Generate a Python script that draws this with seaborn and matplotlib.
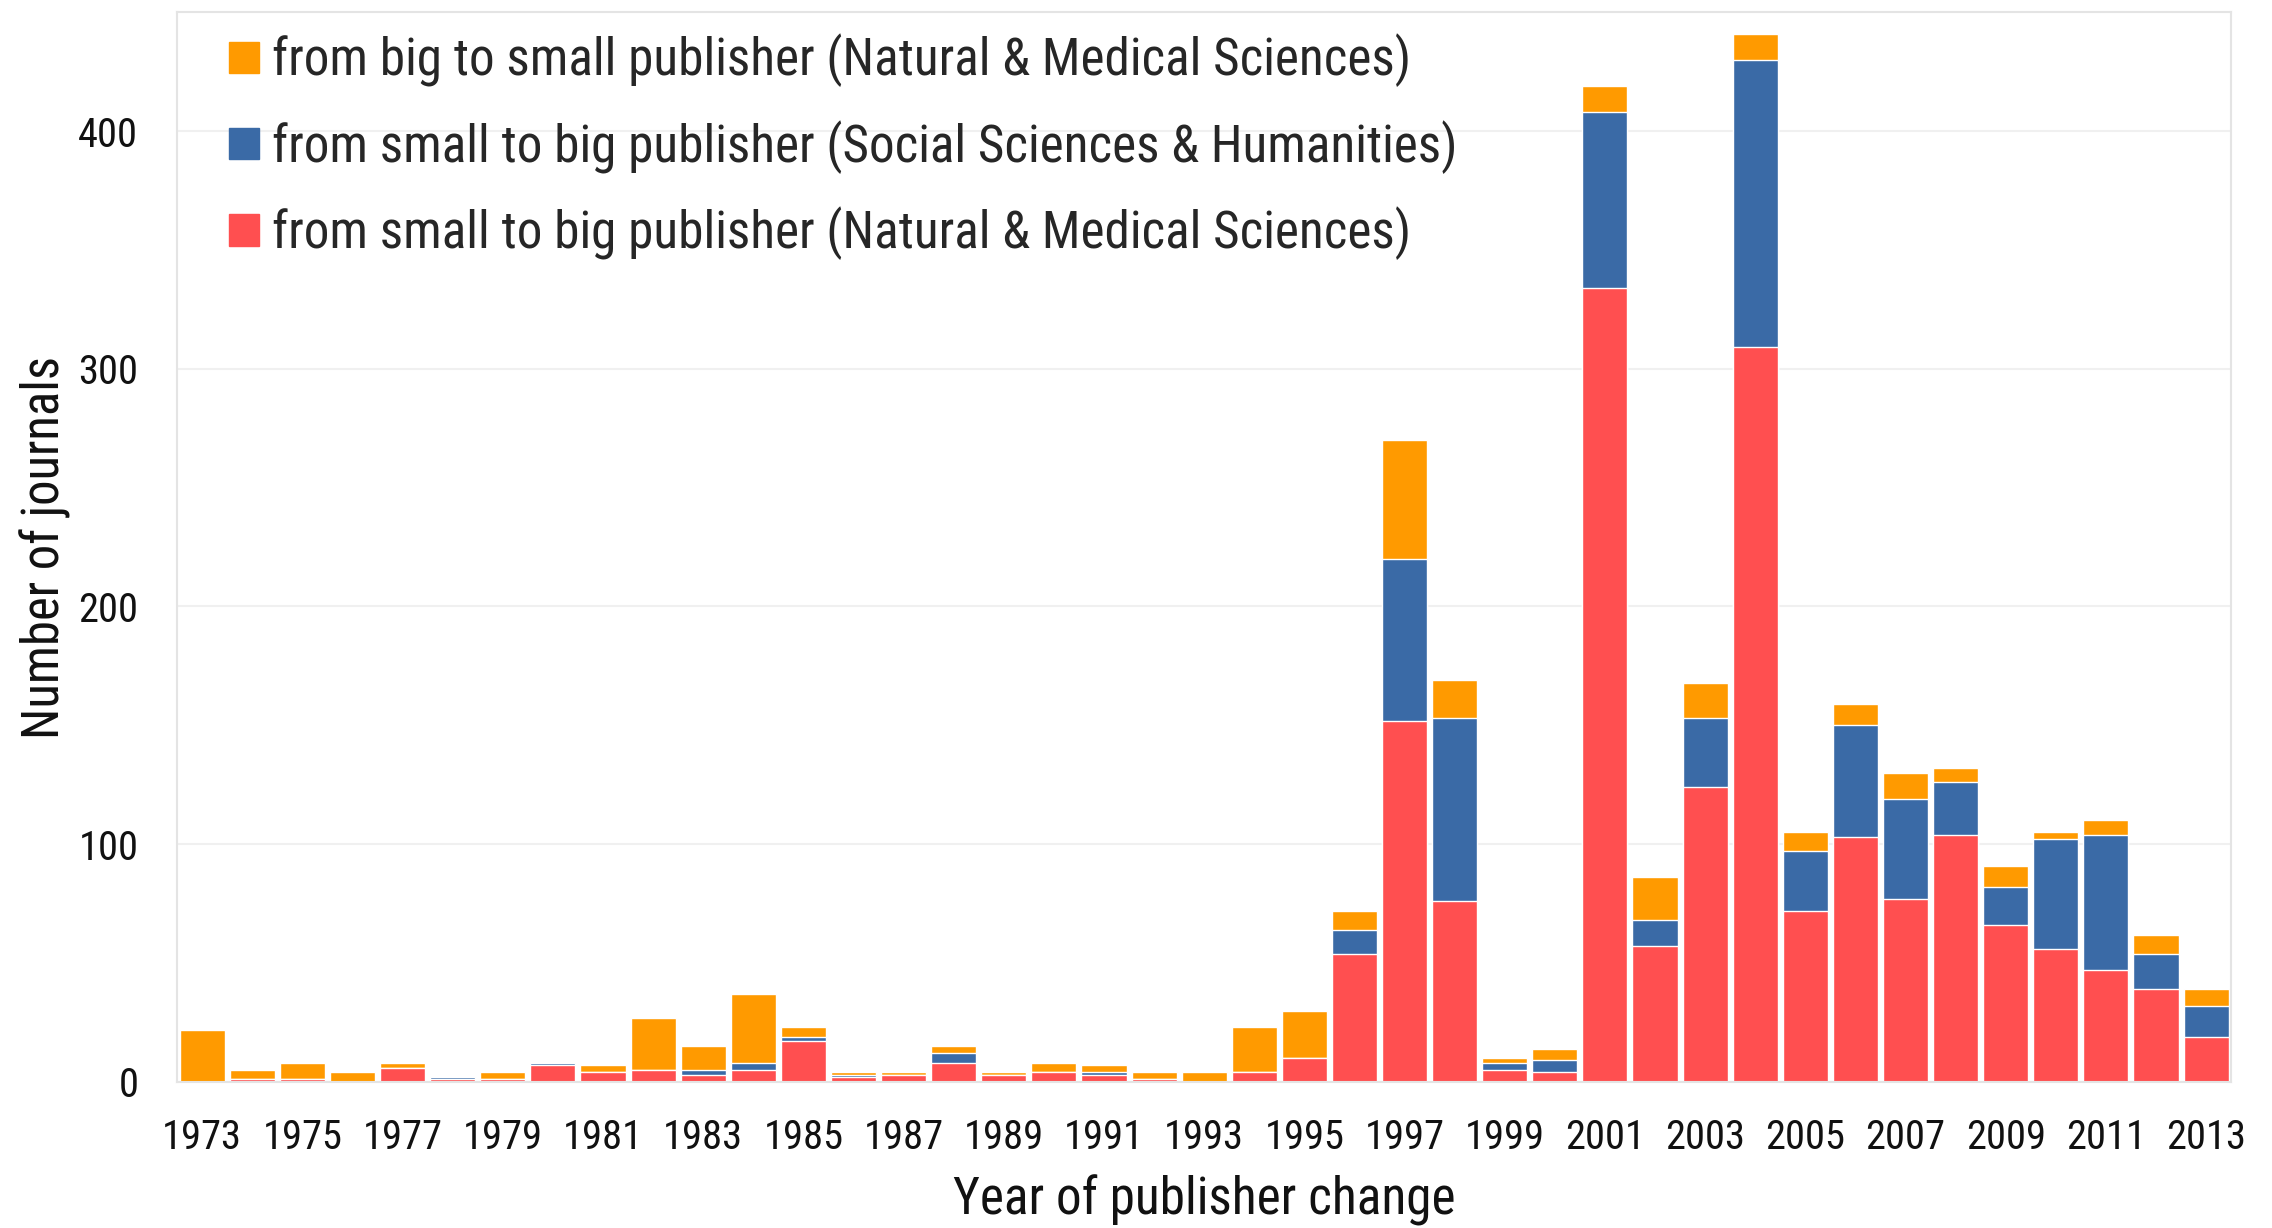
import os
import matplotlib
matplotlib.use("Agg")
import matplotlib.pyplot as plt
from matplotlib import font_manager
from matplotlib.font_manager import FontProperties
from matplotlib.patches import Patch
import numpy as np
import pandas as pd
import seaborn as sns

# --- data ---
years = list(range(1973, 2014))
red_nat = [0, 1, 1, 0, 6, 1, 1, 7, 4, 5, 3, 5, 17, 2, 3, 8, 3, 4, 3, 1, 0,
           4, 10, 54, 152, 76, 5, 4, 334, 57, 124, 309, 72, 103, 77, 104, 66,
           56, 47, 39, 19]
blue_soc = [0, 0, 0, 0, 0, 1, 0, 1, 0, 0, 2, 3, 2, 1, 0, 4, 0, 0, 1, 0, 0,
            0, 0, 10, 68, 77, 3, 5, 74, 11, 29, 121, 25, 47, 42, 22, 16,
            46, 57, 15, 13]
orange_big = [22, 4, 7, 4, 2, 0, 3, 0, 3, 22, 10, 29, 4, 1, 1, 3, 1, 4, 3, 3, 4,
              19, 20, 8, 50, 16, 2, 5, 11, 18, 15, 11, 8, 9, 11, 6, 9,
              3, 6, 8, 7]

labels = ["from big to small publisher (Natural & Medical Sciences)",
          "from small to big publisher (Social Sciences & Humanities)",
          "from small to big publisher (Natural & Medical Sciences)"]

ORANGE = "#FF9A00"
BLUE = "#3A6AA6"
RED = "#FF4F50"

df = pd.DataFrame({"year": years, "red": red_nat, "blue": blue_soc, "orange": orange_big})
df["red_blue"] = df["red"] + df["blue"]
df["total"] = df["red_blue"] + df["orange"]

sns.set_style("white")
plt.rcParams["font.family"] = ["Liberation Sans", "DejaVu Sans"]

# the reference uses a narrow sans; take a condensed face if one is installed
files = [f.fname for f in font_manager.fontManager.ttflist]
font_file = None
for key in ["liberationsansnarrow-regular", "robotocondensed-regular",
            "roboto_condensed-regular", "dejavusanscondensed.",
            "notosans-condensed.", "notosans-condensedregular",
            "opensans_condensed-regular", "opensanscondensed-regular"]:
    hits = [p for p in files if key in os.path.basename(p).lower()]
    if hits:
        font_file = hits[0]
        break


def fprop(size):
    if font_file:
        return FontProperties(fname=font_file, size=size)
    return FontProperties(family="Liberation Sans", size=size)


fig, ax = plt.subplots(figsize=(22.72, 12.28), dpi=100)
fig.subplots_adjust(left=0.078, right=0.982, bottom=0.119, top=0.990)
renderer = fig.canvas.get_renderer()


def fit_size(text, size_max, width_px):
    w, h, d = renderer.get_text_width_height_descent(text, fprop(size_max), ismath=False)
    return size_max * min(1.0, width_px / w)


tick_size = fit_size("1973", 35, 80)
leg_size = fit_size(labels[1], 42, 1185)
xlab_size = fit_size("Year of publisher change", 41, 503)
ylab_size = fit_size("Number of journals", 41, 384)

# stacked bars: draw cumulative totals from the top segment down
sns.barplot(data=df, x="year", y="total", color=ORANGE, width=0.9,
            saturation=1, errorbar=None, ax=ax)
sns.barplot(data=df, x="year", y="red_blue", color=BLUE, width=0.9,
            saturation=1, errorbar=None, ax=ax)
sns.barplot(data=df, x="year", y="red", color=RED, width=0.9,
            saturation=1, errorbar=None, ax=ax)

ax.set_xlim(-0.5, len(years) - 0.5)
ax.set_ylim(0, 450)
ax.set_yticks([0, 100, 200, 300, 400])
ax.grid(axis="y", color="#f0f0f0", linewidth=1.5)
ax.set_axisbelow(True)

ax.set_xticks(range(len(years)))
ax.set_xticklabels([str(y) if (y - 1973) % 2 == 0 else "" for y in years])
ax.set_xticks(np.arange(-0.5, len(years), 1), minor=True)
ax.tick_params(axis="x", which="major", length=0, pad=26)
ax.tick_params(axis="x", which="minor", length=10, width=1, color="#cddff0")
ax.tick_params(axis="y", length=0, pad=28)
for lab in ax.get_xticklabels() + ax.get_yticklabels():
    lab.set_fontproperties(fprop(tick_size))
    lab.set_color("#111111")

for s in ax.spines.values():
    s.set_color("#e4e4e4")
    s.set_linewidth(1.5)

ax.set_xlabel("Year of publisher change", fontproperties=fprop(xlab_size), color="#111111")
ax.set_ylabel("Number of journals", fontproperties=fprop(ylab_size), color="#111111")
em_x = xlab_size * 100 / 72
em_y = ylab_size * 100 / 72
# xlabel centre ~1203 px down, ylabel centre ~43 px from the left
ax.xaxis.set_label_coords(0.5, -(1203 - 0.55 * em_x - 1082) / 1070)
ax.yaxis.set_label_coords(-(177 - 43 - 0.55 * em_y) / 2054, 0.5)

em = leg_size * 100 / 72
handles = [Patch(color=ORANGE), Patch(color=BLUE), Patch(color=RED)]
ax.legend(handles, labels, loc="upper left", bbox_to_anchor=(0.025, 0.980),
          frameon=False, prop=fprop(leg_size), borderpad=0, borderaxespad=0,
          handlelength=30 / em, handleheight=29 / em,
          handletextpad=13 / em, labelspacing=max(0.1, (91.5 - 1.15 * em) / em))

fig.savefig("out.png", dpi=100)
